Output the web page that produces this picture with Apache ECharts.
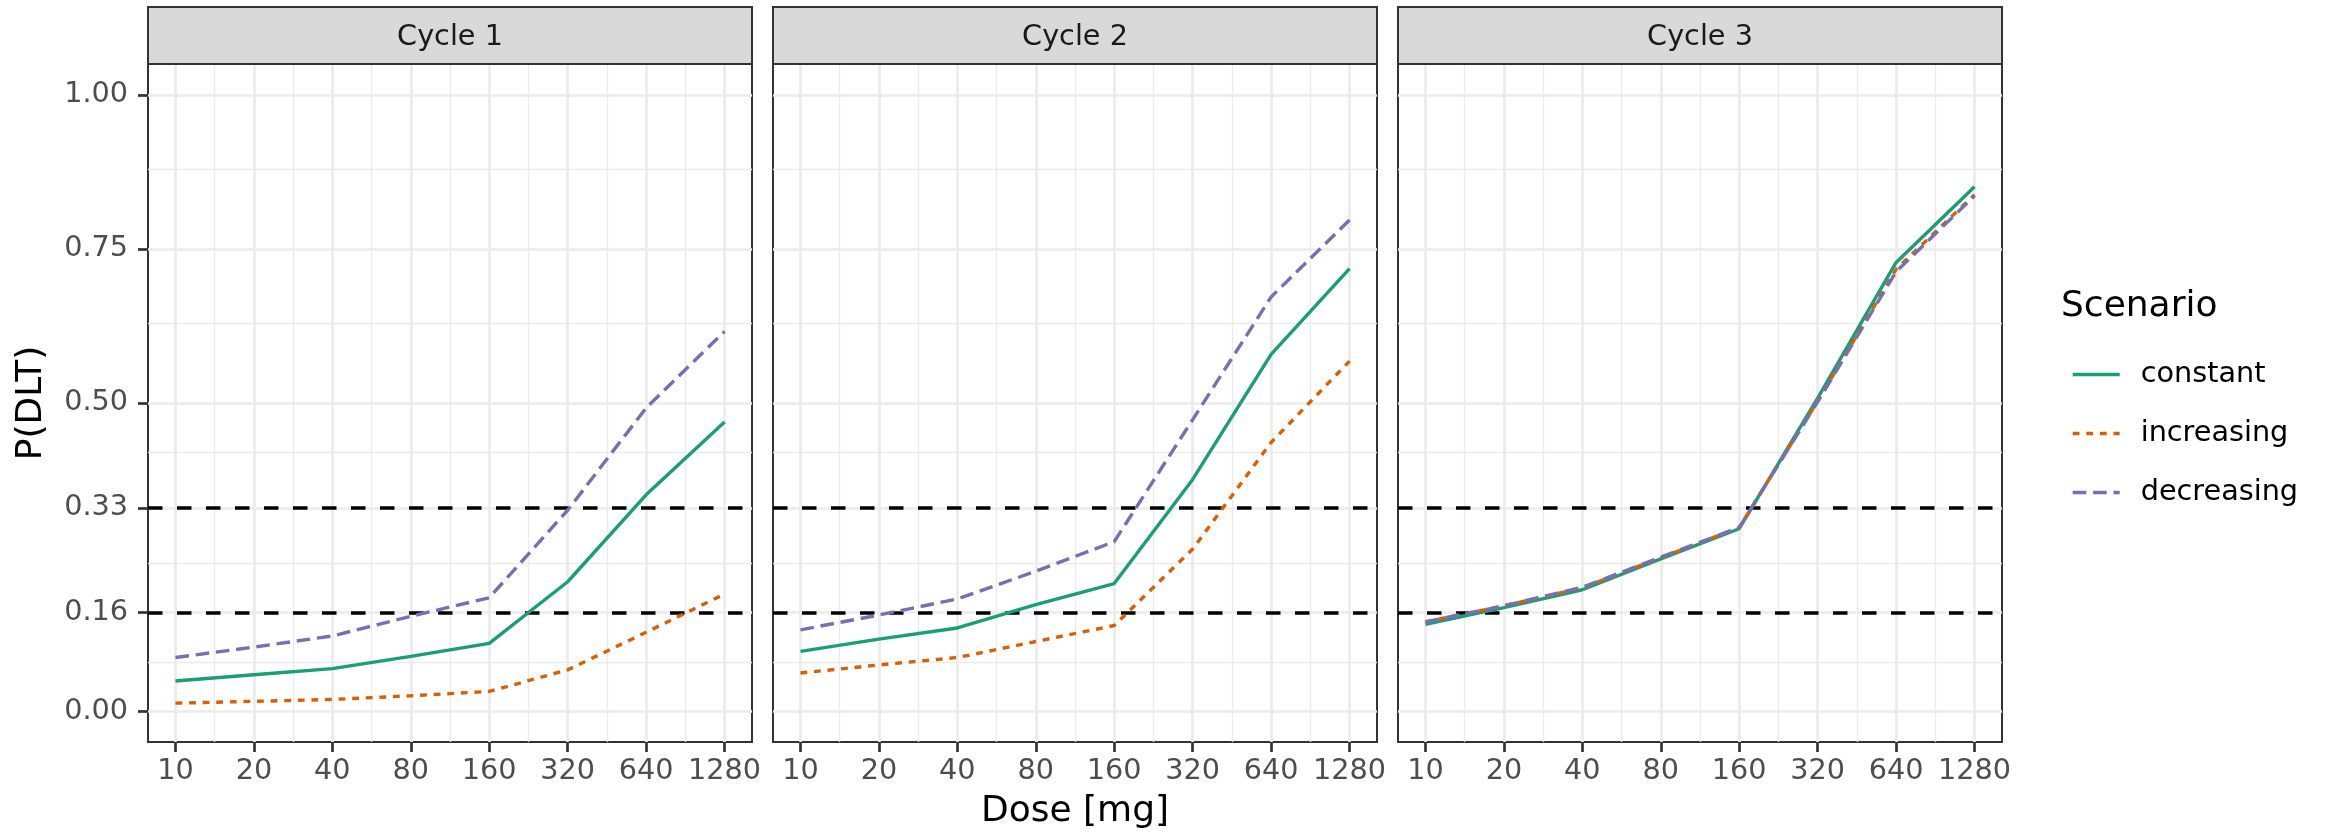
<!DOCTYPE html>
<html>
<head>
<meta charset="utf-8">
<script src="https://cdn.jsdelivr.net/npm/echarts@6/dist/echarts.min.js"></script>
<style>
html,body{margin:0;padding:0;background:#ffffff;}
#chart{width:2331px;height:833px;}
</style>
</head>
<body>
<div id="chart"></div>
<script>
// ---------------- data ----------------
const doses = [10, 20, 40, 80, 160, 320, 640, 1280];
const doseLabels = ['10', '20', '40', '80', '160', '320', '640', '1280'];
const cycles = ['Cycle 1', 'Cycle 2', 'Cycle 3'];
const scenarios = ['constant', 'increasing', 'decreasing'];
const yBreaks = [0, 0.16, 0.33, 0.5, 0.75, 1];
const yBreakLabels = ['0.00', '0.16', '0.33', '0.50', '0.75', '1.00'];
const thresholds = [0.16, 0.33];

const constantC1   = [0.049, 0.059, 0.069, 0.089, 0.110, 0.210, 0.351, 0.469];
const increasingC1 = [0.013, 0.016, 0.019, 0.025, 0.032, 0.067, 0.128, 0.190];
const decreasingC1 = [0.087, 0.104, 0.122, 0.154, 0.184, 0.326, 0.492, 0.616];

const constantC2   = [0.097, 0.117, 0.135, 0.173, 0.207, 0.376, 0.579, 0.718];
const increasingC2 = [0.062, 0.075, 0.087, 0.113, 0.139, 0.263, 0.436, 0.568];
const decreasingC2 = [0.132, 0.156, 0.182, 0.227, 0.275, 0.473, 0.672, 0.797];

const constantC3   = [0.141, 0.168, 0.197, 0.247, 0.296, 0.508, 0.728, 0.851];
const increasingC3 = [0.145, 0.171, 0.200, 0.249, 0.298, 0.503, 0.717, 0.838];
const decreasingC3 = [0.145, 0.171, 0.201, 0.250, 0.298, 0.502, 0.713, 0.836];

// ---------------- styling / layout ----------------
const FONT = 'DejaVu Sans';
const colors = { constant: '#1B9E77', increasing: '#D95F02', decreasing: '#7570B3' };
const dashes = { constant: 'solid', increasing: [6.8, 6.8], decreasing: [13.6, 6.8] };
const panelLeft = [148, 773, 1398];
const panelW = 604, panelTop = 64, panelH = 678;
const stripTop = 7, stripH = 57;

const valuesByCycle = [
  { constant: constantC1, increasing: increasingC1, decreasing: decreasingC1 },
  { constant: constantC2, increasing: increasingC2, decreasing: decreasingC2 },
  { constant: constantC3, increasing: increasingC3, decreasing: decreasingC3 }
];

// x is shown on a log2 scale: position = log2(dose / first dose)
const xOf = d => Math.log2(d / doses[0]);
const xTicks = doses.map(xOf);
const xMinor = xTicks.slice(0, -1).map((v, i) => (v + xTicks[i + 1]) / 2);
const yMinor = yBreaks.slice(0, -1).map((v, i) => (v + yBreaks[i + 1]) / 2);
const xPad = (xTicks[xTicks.length - 1] - xTicks[0]) * 0.05;

const grids = [], xAxes = [], yAxes = [], series = [], graphics = [];

cycles.forEach((cyc, c) => {
  grids.push({
    left: panelLeft[c], top: panelTop, width: panelW, height: panelH,
    show: true, borderColor: '#333333', borderWidth: 2, backgroundColor: 'transparent',
    containLabel: false
  });
  xAxes.push({
    type: 'value', gridIndex: c, position: 'bottom',
    min: xTicks[0] - xPad, max: xTicks[xTicks.length - 1] + xPad,
    axisLine: { show: false, onZero: false },
    axisTick: { show: true, customValues: xTicks, length: 10, lineStyle: { color: '#333333', width: 2.7 } },
    axisLabel: {
      show: true, customValues: xTicks, margin: 15,
      formatter: v => doseLabels[xTicks.indexOf(v)] !== undefined ? doseLabels[xTicks.indexOf(v)] : doseLabels[Math.round(v)],
      color: '#4d4d4d', fontSize: 28.7, fontFamily: FONT
    },
    splitLine: { show: false }
  });
  yAxes.push({
    type: 'value', gridIndex: c, position: 'left', min: -0.05, max: 1.05,
    axisLine: { show: false, onZero: false },
    axisTick: { show: c === 0, customValues: yBreaks, length: 10, lineStyle: { color: '#333333', width: 2.7 } },
    axisLabel: {
      show: c === 0, customValues: yBreaks, margin: 20,
      formatter: v => yBreakLabels[yBreaks.indexOf(v)] !== undefined ? yBreakLabels[yBreaks.indexOf(v)] : v.toFixed(2),
      color: '#4d4d4d', fontSize: 28.7, fontFamily: FONT
    },
    splitLine: { show: false }
  });

  const gridMajor = { color: '#ebebeb', width: 2.7, type: 'solid' };
  const gridMinor = { color: '#ebebeb', width: 1.4, type: 'solid' };
  const markData = []
    .concat(xMinor.map(v => ({ xAxis: v, lineStyle: gridMinor })))
    .concat(yMinor.map(v => ({ yAxis: v, lineStyle: gridMinor })))
    .concat(xTicks.map(v => ({ xAxis: v, lineStyle: gridMajor })))
    .concat(yBreaks.map(v => ({ yAxis: v, lineStyle: gridMajor })))
    .concat(thresholds.map(v => ({ yAxis: v, lineStyle: { color: '#000000', width: 3.6, type: [14.5, 14.5] } })));

  scenarios.forEach((s, k) => {
    const item = {
      type: 'line', name: s, xAxisIndex: c, yAxisIndex: c,
      data: doses.map((d, i) => [xOf(d), valuesByCycle[c][s][i]]),
      symbol: 'none', showSymbol: false, smooth: false,
      lineStyle: { color: colors[s], width: 3.4, type: dashes[s], cap: 'butt' },
      itemStyle: { color: colors[s] },
      z: 3, silent: true, emphasis: { disabled: true }
    };
    if (k === 0) {
      item.markLine = {
        silent: true, z: 1, symbol: ['none', 'none'], animation: false,
        label: { show: false }, emphasis: { disabled: true },
        data: markData
      };
    }
    series.push(item);
  });

  // facet strip
  graphics.push({
    type: 'rect', silent: true, z: 10,
    shape: { x: panelLeft[c], y: stripTop, width: panelW, height: stripH },
    style: { fill: '#d9d9d9', stroke: '#333333', lineWidth: 2 }
  });
  graphics.push({
    type: 'text', silent: true, z: 11,
    x: panelLeft[c] + panelW / 2, y: stripTop + stripH / 2 + 2,
    style: { text: cyc, fill: '#1a1a1a', fontSize: 28.7, fontFamily: FONT, align: 'center', verticalAlign: 'middle' }
  });
});

// axis titles
graphics.push({
  type: 'text', silent: true,
  x: (panelLeft[0] + panelLeft[2] + panelW) / 2, y: 812,
  style: { text: 'Dose [mg]', fill: '#000000', fontSize: 36, fontFamily: FONT, align: 'center', verticalAlign: 'middle' }
});
graphics.push({
  type: 'text', silent: true,
  x: 32, y: panelTop + panelH / 2, rotation: Math.PI / 2,
  style: { text: 'P(DLT)', fill: '#000000', fontSize: 36, fontFamily: FONT, align: 'center', verticalAlign: 'middle' }
});
// legend title
graphics.push({
  type: 'text', silent: true,
  x: 2061, y: 307,
  style: { text: 'Scenario', fill: '#000000', fontSize: 36, fontFamily: FONT, align: 'left', verticalAlign: 'middle' }
});

const chart = echarts.init(document.getElementById('chart'), null, { renderer: 'canvas' });
chart.setOption({
  backgroundColor: '#ffffff',
  animation: false,
  tooltip: { show: false },
  grid: grids,
  xAxis: xAxes,
  yAxis: yAxes,
  legend: {
    show: true, data: scenarios, orient: 'vertical',
    left: 2066, top: 355, itemWidth: 47, itemHeight: 29, itemGap: 30,
    selectedMode: false,
    itemStyle: { opacity: 0, borderWidth: 0 },
    lineStyle: { width: 3.4 },
    textStyle: { fontSize: 28.7, color: '#000000', fontFamily: FONT, padding: [0, 0, 0, 16] }
  },
  series: series,
  graphic: graphics
});
</script>
</body>
</html>
